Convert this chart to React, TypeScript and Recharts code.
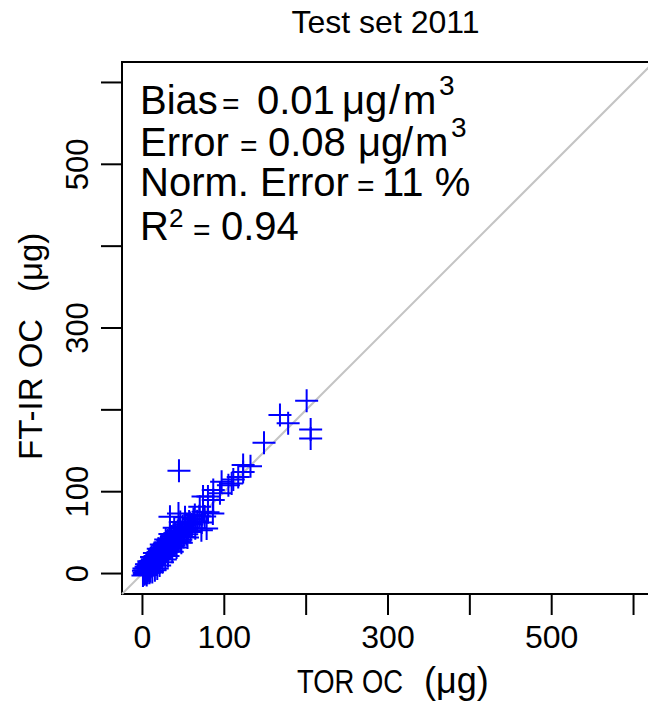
import React from "react";
import {
  ScatterChart,
  Scatter,
  XAxis,
  YAxis,
  ReferenceLine,
  ReferenceArea,
} from "recharts";

// TOR OC vs FT-IR OC, test set 2011 (µg)
const clusterPoints: [number, number][] = [
  [1.2, 3.4], [2.5, -0.8], [3.1, 5.9], [3.8, 1.7], [4.4, 8.3], [5.0, 2.6],
  [5.6, 6.8], [6.1, 10.9], [6.9, 4.1], [7.3, 9.6], [8.0, 13.2], [8.4, 5.7],
  [9.1, 11.8], [9.7, 7.9], [10.2, 15.4], [10.8, 9.3], [11.3, 14.1], [11.9, 17.6],
  [12.5, 10.5], [13.0, 16.9], [13.6, 12.2], [14.2, 19.8], [14.9, 13.7], [15.4, 21.3],
  [16.1, 15.0], [16.6, 18.8], [17.2, 24.6], [17.9, 16.3], [18.4, 20.5], [19.0, 26.2],
  [19.7, 17.8], [20.3, 23.9], [20.9, 28.7], [21.6, 19.4], [22.2, 25.1], [22.8, 31.5],
  [23.5, 21.7], [24.1, 27.8], [24.8, 33.9], [25.4, 23.0], [26.1, 29.6], [26.7, 36.4],
  [27.4, 25.2], [28.0, 31.4], [28.8, 38.1], [29.5, 27.0], [30.1, 33.5], [30.9, 40.6],
  [31.6, 28.9], [32.3, 35.9], [33.0, 42.8], [33.8, 30.7], [34.5, 37.2], [35.3, 45.3],
  [36.0, 32.4], [36.8, 39.8], [37.7, 47.5], [38.5, 34.6], [39.4, 41.9], [40.2, 49.2],
  [41.1, 36.8], [42.0, 44.5], [43.0, 52.1], [43.9, 39.3], [44.8, 46.0], [45.9, 55.4],
  [46.9, 41.2], [48.0, 49.7], [49.1, 57.8], [50.3, 44.6], [51.5, 53.0], [52.8, 60.2],
  [54.1, 47.9], [55.6, 56.4], [57.0, 63.7], [58.7, 50.8], [60.4, 59.9], [62.3, 66.5],
  [64.5, 55.3], [66.8, 63.8], [69.4, 70.1], [72.5, 62.4], [76.0, 69.7], [80.1, 74.8],
  [12.0, 2.0], [15.2, 4.1], [18.1, 6.3], [21.0, 9.8], [3.5, 0.2], [6.5, 1.1],
  [9.4, 2.8], [24.5, 13.9], [27.9, 17.2], [7.8, 15.1], [11.1, 20.3], [14.6, 25.0],
  [19.3, 30.4], [23.0, 35.6], [28.4, 41.7], [33.5, 48.3], [38.8, 55.9], [46.2, 63.0],
  [52.0, 68.8], [31.2, 21.5], [36.4, 26.7], [41.7, 31.8], [47.5, 37.6], [55.0, 44.1],
  [0.6, -2.4], [2.0, 1.0], [5.2, -1.9], [8.7, 0.9], [1.8, 6.2], [4.9, 11.3],
]

const scatterPoints: [number, number][] = [
  [58, 61.7], [64, 71.5], [70, 81.6], [86, 73.5], [86.5, 90], [94.7, 98],
  [109, 110], [105, 108], [96.7, 112], [86.5, 102], [74, 94], [78.4, 55],
  [74, 75.5], [33.6, 69.4], [44, 73.5], [80, 94], [72, 53], [117, 118],
  [111, 115], [123, 124], [132, 131], [123, 132.6], [44.6, 125.6], [148.5, 159.7],
  [168, 193.6], [178, 183.5], [200.6, 211], [205.5, 176], [205.5, 165],
]

const xTicks = [0, 100, 200, 300, 400, 500, 600];
const yTicks = [0, 100, 200, 300, 400, 500, 600];
const labelledTicks = [0, 100, 300, 500];
const axisDomain: [number, number] = [-25, 625];

const FONT = '"Liberation Sans", Arial, Helvetica, sans-serif';
const Y_LABEL_BASELINE = 88;

const data = [...clusterPoints, ...scatterPoints].map(([tor, ftir]) => ({ tor, ftir }));

const PlusMark = (props: any) => {
  const { cx, cy } = props;
  const r = 11.5;
  return (
    <path
      d={`M${cx - r},${cy}H${cx + r}M${cx},${cy - r}V${cy + r}`}
      stroke="#0000ff"
      strokeWidth={2}
      fill="none"
    />
  );
};

const XTick = (props: any) => {
  const { x, y, payload } = props;
  if (!labelledTicks.includes(payload.value)) return null;
  return (
    <text x={x} y={y + 33} textAnchor="middle" fontSize={32} fontFamily={FONT} fill="#000">
      {payload.value}
    </text>
  );
};

const YTick = (props: any) => {
  const { y, payload } = props;
  if (!labelledTicks.includes(payload.value)) return null;
  return (
    <text
      transform={`translate(${Y_LABEL_BASELINE},${y}) rotate(-90)`}
      textAnchor="middle"
      fontSize={31}
      fontFamily={FONT}
      fill="#000"
    >
      {payload.value}
    </text>
  );
};

export default function App() {
  return (
    <div
      style={{
        position: "absolute",
        left: 0,
        top: 0,
        width: 648,
        height: 702,
        overflow: "hidden",
        background: "#fff",
      }}
    >
      <ScatterChart
        width={660}
        height={702}
        margin={{ top: 62, right: 6, bottom: 78, left: 62 }}
      >
        <XAxis
          type="number"
          dataKey="tor"
          domain={axisDomain}
          ticks={xTicks}
          allowDataOverflow
          height={30}
          axisLine={false}
          tickSize={21}
          tickMargin={0}
          tickLine={{ stroke: "#000", strokeWidth: 2 }}
          tick={<XTick />}
        />
        <YAxis
          type="number"
          dataKey="ftir"
          domain={axisDomain}
          ticks={yTicks}
          allowDataOverflow
          width={60}
          axisLine={false}
          tickSize={21}
          tickMargin={0}
          tickLine={{ stroke: "#000", strokeWidth: 2 }}
          tick={<YTick />}
        />
        <ReferenceLine
          segment={[
            { x: axisDomain[0], y: axisDomain[0] },
            { x: axisDomain[1], y: axisDomain[1] },
          ]}
          stroke="#c4c4c4"
          strokeWidth={2}
        />
        <Scatter data={data} shape={<PlusMark />} isAnimationActive={false} />
        <ReferenceArea
          x1={axisDomain[0]}
          x2={axisDomain[1]}
          y1={axisDomain[0]}
          y2={axisDomain[1]}
          fill="none"
          fillOpacity={0}
          stroke="#000"
          strokeWidth={2}
        />
      </ScatterChart>
      <svg
        width={648}
        height={702}
        style={{ position: "absolute", left: 0, top: 0, pointerEvents: "none" }}
        fontFamily={FONT}
        fill="#000"
      >
        <text x={385.5} y={33} textAnchor="middle" fontSize={32}>
          Test set 2011
        </text>

        <g fontSize={40}>
          <text x={140} y={114}>Bias</text>
          <text x={222} y={114} fontSize={30}>=</text>
          <text x={257} y={114}>0.01</text>
          <text x={342} y={114}>μg</text>
          <text x={389} y={114}>/</text>
          <text x={403} y={114}>m</text>
          <text x={439} y={95} fontSize={28}>3</text>

          <text x={140} y={156}>Error</text>
          <text x={240} y={156} fontSize={30}>=</text>
          <text x={268} y={156}>0.08</text>
          <text x={358} y={156}>μg</text>
          <text x={402} y={156}>/</text>
          <text x={415} y={156}>m</text>
          <text x={451} y={137} fontSize={28}>3</text>

          <text x={140} y={196}>Norm. Error</text>
          <text x={357} y={196} fontSize={30}>=</text>
          <text x={382} y={196}>11 %</text>

          <text x={140} y={240}>R</text>
          <text x={169} y={227} fontSize={26}>2</text>
          <text x={193} y={240} fontSize={30}>=</text>
          <text x={221} y={240}>0.94</text>
        </g>

        <text x={297} y={693} fontSize={34} textLength={106} lengthAdjust="spacingAndGlyphs">
          TOR OC
        </text>
        <text x={424} y={693} fontSize={36}>
          (μg)
        </text>

        <text transform="translate(42,460) rotate(-90)" fontSize={33}>
          FT-IR OC
        </text>
        <text transform="translate(42,292) rotate(-90)" fontSize={33}>
          (μg)
        </text>
      </svg>
    </div>
  );
}
